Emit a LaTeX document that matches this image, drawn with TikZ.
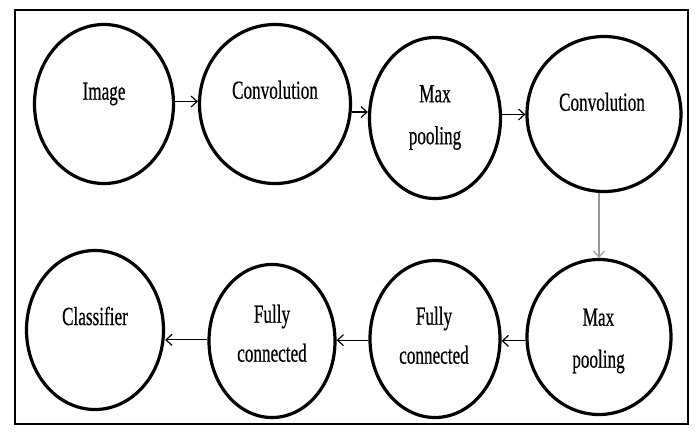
\documentclass[tikz,border=0pt]{standalone}
\usepackage{fontspec}
\usepackage{graphicx}
\setmainfont{Liberation Serif}
\newfontfamily\lblfont{Liberation Serif}[FakeBold=0.7]
\usetikzlibrary{shapes.geometric,arrows.meta}
\newcommand\nx[1]{\scalebox{0.66}[1]{#1}}
\begin{document}
\begin{tikzpicture}[x=1pt,y=-1pt,
  blob/.style={ellipse, draw, line width=3.2pt, inner sep=0pt},
  lbl/.style={anchor=north, align=center, inner sep=0pt, font=\lblfont\fontsize{26}{42}\selectfont},
  lblf/.style={lbl, font=\lblfont\fontsize{26}{39}\selectfont},
  arr/.style={line width=1.2pt, -{Straight Barb[length=6pt,width=11pt]}},
  garr/.style={arr, draw=gray!80}]
\useasboundingbox (0,0) rectangle (696,432);
\node[draw, line width=1.8pt, inner sep=0pt, minimum width=673pt, minimum height=414pt] (frame) at (351.5,217) {};
% nodes
\node[blob, minimum width=139pt, minimum height=159pt] (img) at (104,104) {};
\node[blob, minimum width=151pt, minimum height=159pt] (conv1) at (275,104) {};
\node[blob, minimum width=131pt, minimum height=161pt] (max1) at (435,118) {};
\node[blob, minimum width=154pt, minimum height=155pt] (conv2) at (604,114) {};
\node[blob, minimum width=137pt, minimum height=159pt] (cls) at (95,330) {};
\node[blob, minimum width=126pt, minimum height=153pt] (fc1) at (272,341) {};
\node[blob, minimum width=130pt, minimum height=157pt] (fc2) at (435,339) {};
\node[blob, minimum width=144pt, minimum height=155pt] (mp2) at (599,337) {};
% labels
\node[lbl] (timg) at (104,82.5) {\nx{Image}};
\node[lbl] (tconv1) at (275,80.5) {\nx{Convolution}};
\node[lbl] (tmax1) at (435,85) {\nx{Max}\\\nx{pooling}};
\node[lbl] (tconv2) at (602,92.5) {\nx{Convolution}};
\node[lbl] (tcls) at (95,306.5) {\nx{Classifier}};
\node[lblf] (tfc1) at (272,304.5) {\nx{Fully}\\\nx{connected}};
\node[lblf] (tfc2) at (434,306.5) {\nx{Fully}\\\nx{connected}};
\node[lbl] (tmp2) at (598.5,308.5) {\nx{Max}\\\nx{pooling}};
% connectors
\draw[arr] (img.2) -- (img.2 -| conv1.west);
\draw[arr] (conv1.-6) -- (conv1.-6 -| max1.west);
\draw[arr] (max1.3) -- (max1.3 -| conv2.west);
\draw[garr] (conv2.south -| mp2.north) -- (mp2.north);
\draw[arr] (mp2.183) -- (mp2.183 -| fc2.east);
\draw[arr] (fc2.181) -- (fc2.181 -| fc1.east);
\draw[arr] (fc1.179) -- (fc1.179 -| cls.east);
\end{tikzpicture}
\end{document}
